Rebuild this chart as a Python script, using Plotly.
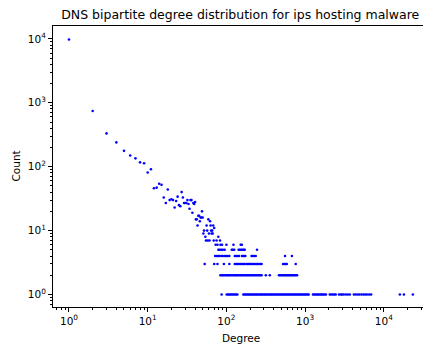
import plotly.graph_objects as go

# Degree distribution: upper part (degree -> count)
head_degree = [1, 2, 3, 4, 5, 6, 7, 8, 9, 10, 11, 12, 13, 14, 15, 16, 17, 18, 19, 20,
               21, 22, 23, 24, 25, 26, 27, 28, 29, 30, 31, 32, 33, 34, 35, 36, 37, 38, 39, 40,
               41, 42, 43, 44, 45, 46, 47, 48, 49, 50, 51, 52, 54, 55, 56, 57, 58, 59, 60, 61,
               62, 63, 64, 65, 66, 67, 68, 69, 70, 75, 79, 83]
head_count = [9800, 745, 332, 240, 177, 150, 135, 117, 113, 81, 91, 46, 47, 54, 52, 33, 27, 44, 30, 31,
              30, 23, 29, 34, 25, 24, 40, 33, 27, 27, 27, 30, 26, 22, 30, 30, 19, 27, 26, 28,
              15, 15, 12, 17, 17, 14, 16, 16, 20, 16, 9, 10, 8, 7, 12, 10, 7, 15, 9, 7,
              14, 12, 10, 9, 10, 9, 12, 7, 11, 7, 8, 7]

# Low-count rows: degrees observed with a given count
deg_count6 = [73, 77, 84, 88, 100, 123, 152, 157]
deg_count5 = [79, 82, 86, 90, 95, 117, 121, 126, 143, 148, 154, 160, 166, 171, 245]
deg_count4 = [72, 75, 78, 81, 86, 90, 95, 99, 104, 109, 128, 133, 139, 145, 158, 163, 168, 174,
              209, 216, 225, 236, 556, 680]
deg_count3 = [53, 70, 77, 93, 109, 128, 133, 138, 144, 150, 157, 164, 171, 181, 188, 195, 203, 212,
              221, 230, 240, 250, 260, 270, 280, 525, 545, 565, 585, 760]
deg_count2 = [84, 87, 90, 93, 97, 101, 105, 109, 113, 118, 123, 128, 133, 138, 144, 150, 156, 162,
              169, 176, 183, 190, 198, 206, 214, 223, 232, 241, 251, 261, 271, 280, 317, 356,
              466, 484, 502, 521, 541, 562, 583, 605, 628, 652, 677, 703, 730, 758, 790]
deg_count1 = [87, 101, 105, 109, 113, 118, 123, 128, 133, 138,
              164, 170, 176, 183, 190, 197, 204, 212, 220, 228, 237, 246, 255, 265, 275, 285,
              296, 307, 318, 330, 343, 356, 369, 383, 397, 412, 428, 444, 461, 478, 496, 515,
              534, 554, 575, 597, 619, 642, 666, 691, 717, 744, 772, 801, 831, 862, 895, 928,
              963, 1000, 1037, 1076, 1110,
              1260, 1310, 1360, 1410, 1460, 1520, 1580, 1640, 1700, 1770, 1840,
              2060, 2150, 2250, 2350, 2450, 2700,
              2850, 2950, 3100, 3300, 3500, 3700,
              4170, 4400, 4650, 4900, 5200, 5500, 5800, 6100, 6500, 6900,
              16000, 18000, 23400]

tick_vals = [1, 10, 100, 1000, 10000]
tick_text = ["10<sup>0</sup>", "10<sup>1</sup>", "10<sup>2</sup>", "10<sup>3</sup>", "10<sup>4</sup>"]

xs = list(head_degree)
ys = list(head_count)
for c, row in [(6, deg_count6), (5, deg_count5), (4, deg_count4), (3, deg_count3),
               (2, deg_count2), (1, deg_count1)]:
    xs += row
    ys += [c] * len(row)

fig = go.Figure()
fig.add_trace(go.Scatter(x=xs, y=ys, mode="markers",
                         marker=dict(color="#0000ff", size=2.6, line=dict(width=0)),
                         showlegend=False))

font = dict(family="DejaVu Sans", color="black")
axis_common = dict(
    type="log", showgrid=False, zeroline=False, showline=True, linecolor="black",
    linewidth=1, ticks="outside", ticklen=4, tickwidth=1, tickcolor="black",
    tickvals=tick_vals, ticktext=tick_text, tickfont=dict(size=10.5, **font),
    minor=dict(ticks="outside", ticklen=2, tickwidth=0.8, tickcolor="black", dtick="D1",
               showgrid=False),
)
fig.update_layout(
    width=423, height=346,
    margin=dict(l=53, r=0, t=26, b=39),
    paper_bgcolor="white", plot_bgcolor="white",
    font=font,
    title=dict(text="DNS bipartite degree distribution for ips hosting malware",
               x=0.506, xref="paper", xanchor="center",
               y=1 - 14.5 / 346, yref="container", yanchor="middle",
               font=dict(size=12.5, **font)),
    xaxis=dict(range=[-0.203, 4.498], mirror=True, **axis_common),
    yaxis=dict(range=[-0.196, 4.202], mirror=False, **axis_common),
    annotations=[
        dict(text="Degree", xref="paper", yref="paper", x=0.508, y=0, xanchor="center",
             yanchor="middle", yshift=-31, showarrow=False, font=dict(size=10.5, **font)),
        dict(text="Count", xref="paper", yref="paper", x=0, y=0.5, xanchor="center",
             yanchor="middle", xshift=-38, textangle=-90, showarrow=False,
             font=dict(size=10.5, **font)),
    ],
)
fig.write_html("out.html")
